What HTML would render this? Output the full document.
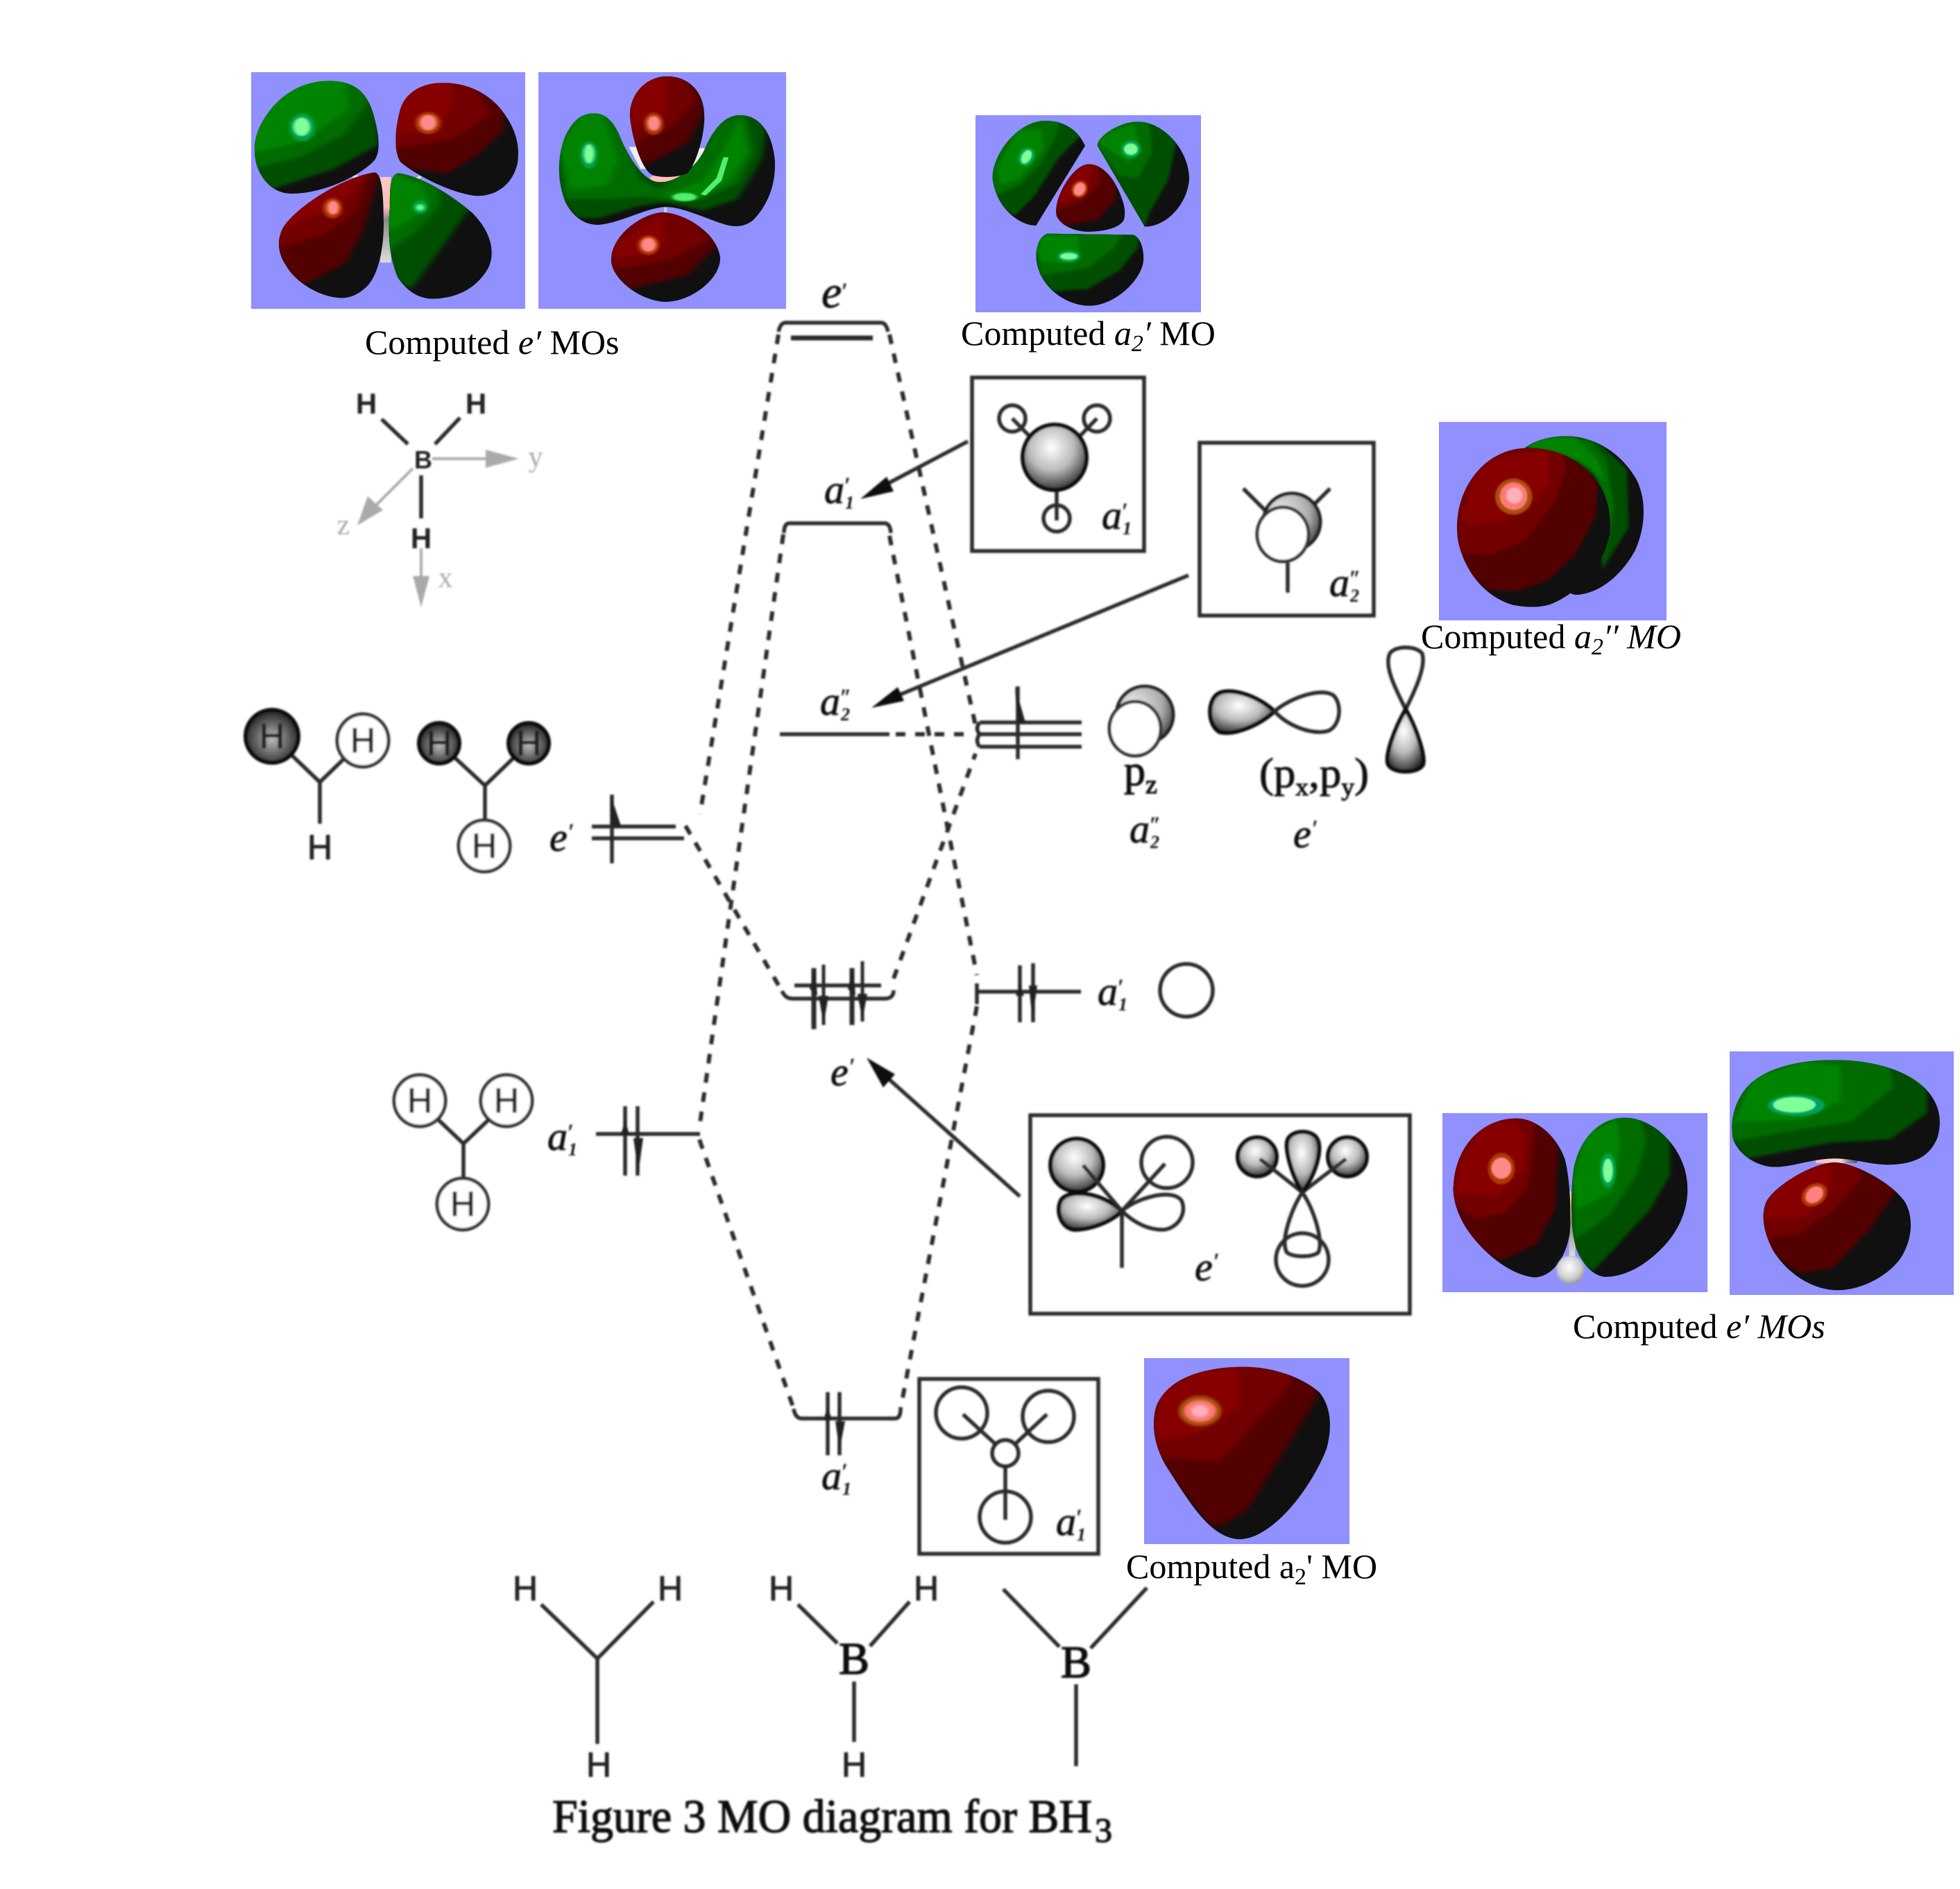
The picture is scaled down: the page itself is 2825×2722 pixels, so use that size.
<!DOCTYPE html>
<html><head><meta charset="utf-8"><title>MO diagram for BH3</title>
<style>
html,body{margin:0;padding:0;background:#fff}
svg{display:block}
.cap{font-family:"Liberation Serif",serif;font-size:50px;fill:#000}
.i{font-style:italic}
.l{font-family:"Liberation Serif",serif;font-style:italic;font-size:58px;fill:#111;stroke:#222;stroke-width:1}
.ls{font-family:"Liberation Serif",serif;font-style:italic;font-size:26px;fill:#111;font-weight:bold}
.lp{font-family:"Liberation Serif",serif;font-size:32px;fill:#111;stroke:#222;stroke-width:.8}
.h{font-family:"Liberation Sans",sans-serif;font-size:50px;fill:#222;stroke:#222;stroke-width:1;text-anchor:middle}
.hb{font-family:"Liberation Sans",sans-serif;font-size:42px;font-weight:bold;fill:#222;text-anchor:middle}
.ax{font-family:"Liberation Serif",serif;font-size:42px;fill:#aaa;text-anchor:middle}
.b{font-family:"Liberation Serif",serif;font-size:66px;fill:#111;stroke:#111;stroke-width:1.6;text-anchor:middle}
.t{font-family:"Liberation Serif",serif;font-size:68px;fill:#111;stroke:#111;stroke-width:1.4}
.ln{fill:none;stroke:#2a2a2a;stroke-width:5.5}
.d{fill:none;stroke:#2a2a2a;stroke-width:6;stroke-dasharray:14 14}
.g1{fill:#005000}.g2{fill:#006c00}.g3{fill:#008400}
.r1{fill:#520000}.r2{fill:#720000}.r3{fill:#870000}
.g1,.g2,.g3,.r1,.r2,.r3{filter:url(#sb)}
.o>ellipse{filter:url(#gb)}
</style></head><body>
<svg xmlns="http://www.w3.org/2000/svg" width="2825" height="2722" viewBox="0 0 2825 2722">
<defs>
<filter id="bl" x="0" y="0" width="2825" height="2722" filterUnits="userSpaceOnUse"><feGaussianBlur stdDeviation="1.3"/></filter>
<filter id="sb" x="-20%" y="-20%" width="140%" height="140%"><feGaussianBlur stdDeviation="6"/></filter>
<filter id="gb" x="-40%" y="-40%" width="180%" height="180%"><feGaussianBlur stdDeviation="3"/></filter>
<radialGradient id="sg" cx="45%" cy="35%" r="70%"><stop offset="0" stop-color="#fff"/><stop offset=".5" stop-color="#bbb"/><stop offset="1" stop-color="#222"/></radialGradient>
<radialGradient id="dg" cx="50%" cy="55%" r="60%"><stop offset="0" stop-color="#bbb"/><stop offset=".6" stop-color="#555"/><stop offset="1" stop-color="#111"/></radialGradient>
<radialGradient id="pg" cx="30%" cy="35%" r="85%"><stop offset="0" stop-color="#eee"/><stop offset=".6" stop-color="#aaa"/><stop offset="1" stop-color="#222"/></radialGradient>
<radialGradient id="lg" cx="45%" cy="40%" r="70%"><stop offset="0" stop-color="#fff"/><stop offset=".6" stop-color="#ccc"/><stop offset="1" stop-color="#777"/></radialGradient>
<linearGradient id="bond" x1="0" y1="0" x2="0" y2="1"><stop offset="0" stop-color="#ffc8c8"/><stop offset=".35" stop-color="#ffbcbc"/><stop offset=".5" stop-color="#888"/><stop offset="1" stop-color="#ddd"/></linearGradient>
<linearGradient id="bondh" x1="0" y1="0" x2="1" y2="0"><stop offset="0" stop-color="#ffb8b8"/><stop offset=".6" stop-color="#ffd8d8"/><stop offset=".8" stop-color="#888"/><stop offset="1" stop-color="#555"/></linearGradient>
<clipPath id="c1"><path d="M175 110C225 110 250 160 262 280C272 370 270 420 262 450C240 510 170 597 105 597C70 597 50 540 40 480C30 400 35 330 60 250C85 170 125 110 175 110Z"/></clipPath>
<clipPath id="c2"><path d="M390 118C440 118 480 170 505 250C530 330 535 400 530 470C520 560 490 607 455 607C410 600 340 520 310 460C298 420 298 330 310 230C320 160 350 118 390 118Z"/></clipPath>
<clipPath id="c3"><path d="M262 505C275 515 278 600 278 700C280 800 272 930 250 990C230 1040 210 1050 195 1048C150 1040 110 970 95 910C80 860 75 800 90 740C120 640 210 520 262 505Z"/></clipPath>
<clipPath id="c4"><path d="M305 508C350 520 410 610 445 680C480 760 490 850 475 920C455 1000 420 1050 370 1052C340 1050 320 1010 305 960C290 880 285 780 290 650C290 570 290 520 305 508Z"/></clipPath>
<clipPath id="c5"><path d="M812 90C850 90 880 150 882 250C885 340 865 480 850 510C830 530 790 530 780 510C760 470 745 340 742 260C742 160 775 90 812 90Z"/></clipPath>
<clipPath id="c6"><path d="M675 250C700 250 715 300 725 360C740 440 765 530 790 545C820 560 860 500 880 420C895 340 915 258 950 258C985 258 1010 330 1015 450C1018 560 1000 650 975 710C960 740 940 745 920 730C880 700 840 655 810 655C775 655 720 730 680 732C650 730 630 680 620 630C605 540 605 440 620 350C635 280 650 250 675 250Z"/></clipPath>
<clipPath id="c7"><path d="M805 678C850 685 905 770 912 870C915 960 860 1063 810 1065C760 1063 705 960 707 880C707 780 765 680 805 678Z"/></clipPath>
<clipPath id="c8"><path d="M320 42C400 42 460 80 492 150L280 495C230 495 170 460 130 400C100 350 90 300 92 280C100 170 210 42 320 42Z"/></clipPath>
<clipPath id="c9"><path d="M720 46C830 46 945 170 942 300C930 410 840 500 750 500L545 150C545 110 640 46 720 46Z"/></clipPath>
<clipPath id="c10"><path d="M510 230C560 230 610 280 640 350C660 400 670 430 660 470C640 510 560 522 500 522C440 520 380 490 368 450C360 400 390 330 430 280C460 245 485 230 510 230Z"/></clipPath>
<clipPath id="c11"><path d="M330 530L700 535C730 545 745 590 745 640C740 730 620 842 510 842C400 840 280 750 280 620C285 570 300 540 330 530Z"/></clipPath>
<clipPath id="c12"><path d="M400 137C500 137 600 170 680 260C740 330 760 420 750 510C720 660 600 770 500 810C450 830 380 825 330 815C240 790 130 700 95 540C80 440 100 320 190 225C250 165 320 137 400 137Z"/></clipPath>
<clipPath id="c13"><path d="M240 305C300 305 360 380 385 480C400 560 405 700 400 800C390 900 350 990 295 992C230 985 150 900 100 800C60 720 48 640 52 590C60 420 140 305 240 305Z"/></clipPath>
<clipPath id="c14"><path d="M565 302C640 302 720 400 745 530C765 640 745 760 680 860C620 950 560 990 505 990C470 985 440 940 420 870C400 780 402 620 412 520C430 390 490 302 565 302Z"/></clipPath>
<clipPath id="c15"><path d="M1190 52C1300 52 1400 90 1460 170C1510 240 1515 320 1500 390C1480 460 1440 505 1350 505C1300 505 1250 478 1190 478C1120 480 1070 515 1010 515C950 510 900 450 888 390C880 320 890 240 930 170C980 90 1080 52 1190 52Z"/></clipPath>
<clipPath id="c16"><path d="M1195 495C1260 500 1370 590 1405 670C1430 740 1425 830 1390 910C1350 990 1270 1048 1200 1048C1120 1045 1050 970 1010 880C980 800 970 720 990 660C1020 590 1130 495 1195 495Z"/></clipPath>
<clipPath id="c17"><path d="M1130 1105C1190 1105 1250 1130 1285 1165C1310 1200 1312 1250 1300 1300C1270 1390 1190 1515 1120 1515C1060 1510 1020 1430 970 1340C945 1290 940 1240 950 1200C975 1125 1060 1105 1130 1105Z"/></clipPath>
<clipPath id="c18"><path d="M385 135C440 95 510 85 570 85C700 90 810 170 870 280C910 370 905 480 860 580C800 690 700 770 600 772L400 700Z"/></clipPath>
</defs>
<rect width="2825" height="2722" fill="#fff"/>

<!-- Blue panels -->
<g fill="#9090ff">
<rect x="362" y="104" width="395" height="341"/>
<rect x="776" y="104" width="357" height="341"/>
<rect x="1406" y="166" width="325" height="284"/>
<rect x="2074" y="608" width="328" height="286"/>
<rect x="2079" y="1604" width="382" height="258"/>
<rect x="2493" y="1515" width="323" height="351"/>
<rect x="1649" y="1957" width="296" height="268"/>
</g>

<!-- Panel 1 -->
<g class="o" transform="translate(340 80) scale(.7653 .3333)">
<rect x="272" y="525" width="20" height="370" fill="url(#bond)"/>
<path d="M218 522L228 516L236 532L226 538ZM335 535L346 518L350 526L340 542Z" fill="#ddd"/>
<g clip-path="url(#c1)"><rect x="0" y="80" width="300" height="540" fill="#101010"/><path class="g1" d="M0 0H268V385L185 490L65 580L0 600Z"/><path class="g2" d="M0 0H250L250 200L205 340L120 440L30 490Z"/><path class="g3" d="M0 0H200L212 230L130 370L30 420Z"/></g>
<ellipse cx="125" cy="310" rx="24" ry="60" fill="#00a050"/><ellipse cx="124" cy="308" rx="16" ry="40" fill="#80ff98"/>
<g clip-path="url(#c2)"><rect x="280" y="100" width="270" height="520" fill="#101010"/><path class="r1" d="M280 100H505L505 320L460 420L400 510L330 490L280 420Z"/><path class="r2" d="M280 100H440L480 250L410 360L290 408Z"/><path class="r3" d="M300 100H400L410 200L385 310L300 340Z"/></g>
<ellipse cx="362" cy="292" rx="24" ry="48" fill="#b03800"/><ellipse cx="362" cy="290" rx="16" ry="34" fill="#ff8a8a"/>
<g clip-path="url(#c3)"><rect x="60" y="480" width="240" height="580" fill="#101010"/><path class="r1" d="M60 480H275L240 760L205 900L130 990L60 930Z"/><path class="r2" d="M60 480H255L225 680L170 770L70 840Z"/><path class="r3" d="M100 620L240 510L200 640L120 720L90 760Z"/></g>
<ellipse cx="182" cy="660" rx="18" ry="44" fill="#b03800"/><ellipse cx="183" cy="658" rx="11" ry="30" fill="#ff8a8a"/>
<g clip-path="url(#c4)"><rect x="280" y="490" width="220" height="580" fill="#101010"/><path class="g1" d="M280 490H440V660L400 790L330 1010L280 950Z"/><path class="g2" d="M280 490H380L385 650L340 760L285 850Z"/><path class="g3" d="M285 500L350 560L365 640L320 720L285 760Z"/></g>
<ellipse cx="347" cy="655" rx="14" ry="30" fill="#00a050"/><ellipse cx="347" cy="657" rx="8" ry="14" fill="#60ff80"/>
</g>

<!-- Panel 2 -->
<g class="o" transform="translate(340 80) scale(.7653 .3333)">
<path d="M740 395L755 395L775 490L762 490ZM870 400L885 400L860 490L850 480Z" fill="#eee"/>
<rect x="780" y="520" width="62" height="28" rx="10" fill="#ffc0c0"/>
<rect x="806" y="655" width="6" height="28" fill="#ccc"/>
<g clip-path="url(#c6)"><rect x="600" y="240" width="430" height="510" fill="#101010"/><path class="g1" d="M600 240H1005L990 450L945 620L880 670L810 635L760 650L680 705L640 700L600 600Z"/><path class="g2" d="M600 240H720L760 540L800 580L880 420L900 300L960 240L975 420L945 550L880 620L820 625L770 610L700 620L620 620Z"/><path class="g3" d="M610 400L650 250H690L720 450L700 560L630 580ZM810 600L880 540L920 400L950 270L965 420L930 540L870 620L820 620Z"/></g>
<ellipse cx="665" cy="430" rx="16" ry="60" fill="#00a050"/><ellipse cx="665" cy="425" rx="10" ry="42" fill="#80ff98"/>
<path d="M875 600L905 530L918 440L928 440L915 540L885 605Z" fill="#50ef70"/>
<ellipse cx="845" cy="612" rx="23" ry="18" fill="#50ef70"/>
<g clip-path="url(#c5)"><rect x="730" y="80" width="170" height="460" fill="#101010"/><path class="r1" d="M730 80H880V250L850 380L775 470L730 420Z"/><path class="r2" d="M730 80H840L865 200L820 310L740 385Z"/><path class="r3" d="M745 100H810L810 240L745 320Z"/></g>
<ellipse cx="787" cy="295" rx="18" ry="48" fill="#b03800"/><ellipse cx="787" cy="293" rx="12" ry="32" fill="#ff8a8a"/>
<g clip-path="url(#c7)"><rect x="700" y="670" width="230" height="400" fill="#101010"/><path class="r1" d="M700 670H910V810L850 950L740 1010L700 940Z"/><path class="r2" d="M700 670H850L890 800L820 880L710 930Z"/><path class="r3" d="M715 820L800 690L810 800L770 860L710 870Z"/></g>
<ellipse cx="777" cy="820" rx="20" ry="42" fill="#b03800"/><ellipse cx="777" cy="818" rx="14" ry="30" fill="#ff8a8a"/>
</g>

<!-- Panel 3 a2' top -->
<g class="o" transform="translate(1400 160) scale(.3333)">
<g clip-path="url(#c8)"><rect x="80" y="30" width="430" height="480" fill="#101010"/><path class="g1" d="M80 30H470V110L380 200L270 370L190 450L80 420Z"/><path class="g2" d="M80 30H380L370 100L300 230L210 320L120 360L80 350Z"/><path class="g3" d="M110 250L200 80H300L310 170L210 290L130 320Z"/></g>
<ellipse cx="238" cy="198" rx="34" ry="42" fill="#00a050" transform="rotate(30 238 198)"/><ellipse cx="238" cy="198" rx="20" ry="32" fill="#80ff98" transform="rotate(30 238 198)"/>
<g clip-path="url(#c9)"><rect x="540" y="40" width="410" height="470" fill="#101010"/><path class="g1" d="M540 40H885V145L850 300L770 440L750 500L540 300Z"/><path class="g2" d="M540 40H770L780 180L720 290L640 280L540 150Z"/><path class="g3" d="M550 130L600 90L700 60L740 170L680 220L600 170Z"/></g>
<ellipse cx="690" cy="165" rx="42" ry="38" fill="#00a050"/><ellipse cx="690" cy="165" rx="30" ry="25" fill="#80ff98"/>
<g clip-path="url(#c10)"><rect x="350" y="220" width="330" height="310" fill="#101010"/><path class="r1" d="M350 220H625V380L550 470L400 495L350 470Z"/><path class="r2" d="M350 220H550L560 310L480 390L370 430Z"/><path class="r3" d="M400 330L490 235L520 240L510 320L440 370L380 400Z"/></g>
<ellipse cx="468" cy="338" rx="34" ry="38" fill="#b03800" transform="rotate(30 468 338)"/><ellipse cx="468" cy="338" rx="24" ry="30" fill="#ff8888" transform="rotate(30 468 338)"/>
<g clip-path="url(#c11)"><rect x="270" y="520" width="480" height="330" fill="#101010"/><path class="g1" d="M270 520H730L720 590L640 690L500 770L350 780L270 700Z"/><path class="g2" d="M270 520H660L620 590L500 680L300 710Z"/><path class="g3" d="M285 600L310 540L460 540L470 620L400 660L300 650Z"/></g>
<ellipse cx="422" cy="628" rx="50" ry="26" fill="#00a050"/><ellipse cx="422" cy="628" rx="38" ry="15" fill="#80ff98"/>
</g>

<!-- Panel 4 a2'' -->
<g class="o" transform="translate(2070 600) scale(.3333)">
<g clip-path="url(#c18)"><rect x="380" y="80" width="540" height="700" fill="#101010"/><path class="g1" d="M385 135L570 85L690 100L825 230L832 480L720 660L700 500L680 250Z"/><path class="g2" d="M385 135C450 85 560 80 670 105L735 190L770 400L720 650C750 500 750 380 700 270C650 190 520 140 385 135Z"/><path class="g3" d="M385 135C450 85 520 85 600 90L690 180L735 280L690 250C650 190 520 140 385 135Z"/></g>
<g clip-path="url(#c12)"><rect x="80" y="130" width="690" height="700" fill="#101010"/><path class="r1" d="M60 100H590L700 300L690 430L600 600L480 710L350 755L230 750L80 640Z"/><path class="r2" d="M60 100H540L560 230L510 370L380 540L230 600L100 590Z"/><path class="r3" d="M110 440L170 240L280 170L480 150L490 290L400 400L290 450L140 470Z"/></g>
<ellipse cx="335" cy="347" rx="80" ry="78" fill="#a85010"/><ellipse cx="335" cy="345" rx="60" ry="60" fill="#ff7878"/><ellipse cx="338" cy="342" rx="35" ry="35" fill="#ffb0b8"/>
</g>

<!-- Panel 5/6 e' right -->
<g class="o" transform="translate(2070 1510) scale(.4815 .3333)">
<rect x="398" y="620" width="18" height="280" fill="url(#bond)"/>
<rect x="1136" y="476" width="124" height="22" fill="url(#bondh)"/>
<g clip-path="url(#c13)"><rect x="40" y="290" width="370" height="710" fill="#101010"/><path class="r1" d="M40 290H340L365 440L355 700L300 850L190 920L40 800Z"/><path class="r2" d="M40 290H295L295 340L275 600L210 710L120 740L40 660Z"/><path class="r3" d="M70 500L130 350L230 310L270 380L260 530L180 640L60 630Z"/></g>
<ellipse cx="195" cy="522" rx="40" ry="68" fill="#b03800"/><ellipse cx="195" cy="520" rx="30" ry="46" fill="#ff8a8a"/>
<g clip-path="url(#c14)"><rect x="395" y="290" width="370" height="710" fill="#101010"/><path class="g1" d="M395 290H700V550L640 700L470 965L395 900Z"/><path class="g2" d="M395 290H610L630 400L600 550L520 720L415 830Z"/><path class="g3" d="M410 560L450 370L540 310L550 420L530 620L420 700Z"/></g>
<ellipse cx="514" cy="530" rx="24" ry="75" fill="#00a050"/><ellipse cx="514" cy="530" rx="15" ry="52" fill="#80ff98"/>
<ellipse cx="402" cy="960" rx="42" ry="62" fill="url(#lg)"/>
<g clip-path="url(#c15)"><rect x="880" y="40" width="640" height="480" fill="#101010"/><path class="g1" d="M880 40H1470V280L1360 395L1180 410L1000 460L930 480L880 400Z"/><path class="g2" d="M880 40H1350L1370 170L1240 320L1100 350L900 400L880 390Z"/><path class="g3" d="M890 330L950 130L1100 60L1210 80L1210 230L1100 310L900 320Z"/></g>
<ellipse cx="1078" cy="248" rx="85" ry="46" fill="#00a060"/><ellipse cx="1072" cy="246" rx="64" ry="34" fill="#80ff98"/>
<g clip-path="url(#c16)"><rect x="960" y="480" width="480" height="575" fill="#101010"/><path class="r1" d="M960 480H1380V610L1300 780L1190 950L1090 975L960 850Z"/><path class="r2" d="M960 480H1260L1270 570L1190 700L1090 800L980 830Z"/><path class="r3" d="M1000 640L1090 530L1180 510L1180 610L1100 730L980 740Z"/></g>
<ellipse cx="1132" cy="635" rx="36" ry="52" fill="#b03800" transform="rotate(20 1132 635)"/><ellipse cx="1132" cy="635" rx="25" ry="38" fill="#ff8080" transform="rotate(20 1132 635)"/>
</g>

<!-- Panel 7 a1 bottom -->
<g class="o" transform="translate(1000 1300) scale(.7015 .606)">
<g clip-path="url(#c17)"><rect x="930" y="1090" width="390" height="430" fill="#101010"/><path class="r1" d="M930 1090H1285L1280 1180L1140 1440L1090 1480L1060 1480L930 1300Z"/><path class="r2" d="M930 1090H1225L1225 1150L1080 1330L950 1320Z"/><path class="r3" d="M950 1250L960 1160L1050 1110L1120 1110L1120 1200L1040 1260L960 1280Z"/></g>
<ellipse cx="1040" cy="1210" rx="44" ry="36" fill="#a85010"/><ellipse cx="1040" cy="1210" rx="33" ry="26" fill="#ff7878"/><ellipse cx="1040" cy="1210" rx="18" ry="15" fill="#ffb0b8"/>
</g>

<!-- Crisp captions -->
<text class="cap" x="526" y="510">Computed <tspan class="i">e′</tspan> MOs</text>
<text class="cap" x="1385" y="497">Computed <tspan class="i">a</tspan><tspan class="i" font-size="34" dy="9">2</tspan><tspan class="i" dy="-9">′</tspan> MO</text>
<text class="cap" x="2048" y="934">Computed <tspan class="i">a</tspan><tspan class="i" font-size="34" dy="9">2</tspan><tspan class="i" dy="-9">′′ MO</tspan></text>
<text class="cap" x="2267" y="1928">Computed <tspan class="i">e′ MOs</tspan></text>
<text class="cap" x="1623" y="2274">Computed a<tspan font-size="34" dy="9">2</tspan><tspan dy="-9">' MO</tspan></text>

<!-- Blurry line art -->
<g filter="url(#bl)">
<!-- Levels -->
<path class="ln" d="M1122 478Q1125 465 1132 465H1270Q1277 465 1280 478"/>
<path class="ln" style="stroke-width:7" d="M1140 487H1258"/>
<path class="ln" d="M1130 768Q1130 754 1138 754H1275Q1283 754 1284 768"/>
<path class="ln" d="M1124 1058H1282"/>
<path class="ln" d="M1412 1041H1559M1412 1058H1559M1412 1076H1559M1412 1041Q1405 1050 1412 1058Q1405 1067 1412 1076"/>
<path class="ln" d="M1467 989V1094"/><path d="M1463 989L1478 1041H1466Z" fill="#222"/>
<path class="ln" d="M853 1191H974M853 1208H986M882 1145V1244"/><path d="M880 1145L895 1190H880Z" fill="#222"/>
<path class="ln" d="M1145 1420H1270M1127 1428Q1132 1439 1142 1439H1275Q1288 1439 1288 1427"/>
<path class="ln" style="stroke-width:7" d="M1173 1395V1483M1228 1395V1477"/>
<path class="ln" style="stroke-width:5" d="M1187 1390V1477M1243 1385V1472"/>
<path d="M1167 1425L1175 1395L1178 1435ZM1222 1425L1230 1395L1233 1435ZM1180 1435H1194L1187 1477ZM1236 1432H1250L1243 1470Z" fill="#222"/>
<path class="ln" d="M1408 1417V1447M1408 1429H1558"/>
<path class="ln" d="M1470 1391V1473M1489 1388V1473"/><path d="M1464 1435L1470 1418L1476 1435ZM1483 1420L1495 1420L1488 1470Z" fill="#222"/>
<path class="ln" d="M859 1634H1009"/>
<path class="ln" d="M901 1594V1694M919 1594V1694"/><path d="M895 1635L901 1613L907 1635ZM913 1640H927L920 1690Z" fill="#222"/>
<path class="ln" d="M1144 2030Q1146 2044 1156 2044H1290Q1298 2044 1298 2030"/>
<path class="ln" d="M1193 2006V2097M1210 2006V2097"/><path d="M1187 2046L1193 2026L1199 2046ZM1204 2048H1218L1210 2090Z" fill="#222"/>

<!-- Dashed connectors -->
<path class="d" d="M1122 482L1009 1173"/>
<path class="d" d="M1129 770L1008 1625"/>
<path class="d" d="M988 1190L1127 1428"/>
<path class="d" d="M1008 1642L1144 2030"/>
<path class="d" d="M1282 482L1406 1045"/>
<path class="d" d="M1282 772L1408 1405"/>
<path class="d" d="M1291 1058H1400"/>
<path class="d" d="M1288 1410L1406 1086"/>
<path class="d" d="M1408 1450L1298 2030"/>

<!-- Arrows -->
<path class="ln" d="M1395 636L1262 706"/><path d="M1240 719L1278 687L1288 708Z" fill="#111"/>
<path class="ln" d="M1713 829L1280 1008"/><path d="M1256 1020L1294 990L1303 1010Z" fill="#111"/>
<path class="ln" d="M1470 1724L1270 1545"/><path d="M1249 1524L1290 1548L1273 1567Z" fill="#111"/>

<!-- Boxes -->
<g fill="none" stroke="#2a2a2a" stroke-width="5.5">
<rect x="1401" y="544" width="248" height="250"/>
<rect x="1729" y="638" width="251" height="249"/>
<rect x="1485" y="1607" width="547" height="286"/>
<rect x="1325" y="1987" width="258" height="252"/>
</g>

<!-- a1' box content -->
<circle cx="1459" cy="603" r="19" class="ln"/><circle cx="1581" cy="603" r="19" class="ln"/><circle cx="1523" cy="747" r="19" class="ln"/>
<path class="ln" d="M1459 603L1495 640M1581 603L1550 635M1523 700V750"/>
<ellipse cx="1520" cy="659" rx="46" ry="47" fill="url(#sg)" stroke="#111" stroke-width="6"/>
<!-- a2'' box content -->
<path class="ln" d="M1792 704L1830 742M1917 704L1894 727M1856 811V854"/>
<circle cx="1862" cy="752" r="41" fill="url(#pg)" stroke="#222" stroke-width="5"/>
<ellipse cx="1849" cy="770" rx="37" ry="39" fill="#fff" stroke="#333" stroke-width="5"/>
<!-- pz -->
<circle cx="1650" cy="1030" r="41" fill="url(#pg)" stroke="#222" stroke-width="5"/>
<ellipse cx="1636" cy="1050" rx="37" ry="39" fill="#fff" stroke="#333" stroke-width="5"/>
<!-- px -->
<path d="M1837 1025C1810 1000 1770 990 1755 1000C1740 1010 1740 1045 1758 1055C1780 1060 1815 1045 1837 1025Z" fill="url(#sg)" stroke="#111" stroke-width="6"/>
<path class="ln" d="M1837 1025C1860 1005 1905 990 1922 1002C1935 1015 1932 1045 1915 1053C1890 1060 1855 1045 1837 1025Z"/>
<!-- py -->
<path class="ln" d="M2026 1022C2010 990 1995 960 2003 942C2010 930 2042 930 2050 942C2055 960 2042 990 2026 1022Z"/>
<path d="M2026 1022C2010 1050 1995 1090 2001 1102C2008 1115 2044 1115 2051 1102C2055 1090 2042 1050 2026 1022Z" fill="url(#sg)" stroke="#111" stroke-width="6"/>
<!-- s -->
<ellipse cx="1710" cy="1427" rx="38" ry="38" class="ln"/>
<!-- e' box -->
<path d="M1617 1745C1590 1720 1545 1712 1530 1728C1520 1745 1530 1770 1548 1772C1570 1772 1600 1762 1617 1745Z" fill="url(#sg)" stroke="#111" stroke-width="6"/>
<circle cx="1552" cy="1679" r="38" fill="url(#sg)" stroke="#111" stroke-width="6"/>
<circle cx="1682" cy="1675" r="37" class="ln"/>
<path class="ln" d="M1617 1745C1640 1725 1690 1712 1703 1730C1712 1750 1695 1772 1675 1772C1655 1772 1635 1762 1617 1745Z"/>
<path class="ln" d="M1561 1679L1617 1745L1679 1677M1617 1745V1827"/>
<circle cx="1812" cy="1667" r="28" fill="url(#sg)" stroke="#111" stroke-width="6"/>
<circle cx="1942" cy="1667" r="28" fill="url(#sg)" stroke="#111" stroke-width="6"/>
<path class="ln" d="M1816 1670L1877 1718L1940 1670"/>
<circle cx="1877" cy="1815" r="38" class="ln"/>
<path d="M1877 1718C1860 1690 1850 1650 1857 1640C1865 1628 1890 1628 1898 1640C1908 1655 1895 1695 1877 1718Z" fill="url(#sg)" stroke="#111" stroke-width="6"/>
<path class="ln" d="M1877 1718C1860 1745 1845 1790 1855 1805C1865 1812 1890 1812 1900 1805C1908 1790 1895 1745 1877 1718Z" fill="#fff"/>
<!-- bottom a1' box -->
<circle cx="1386" cy="2036" r="37" class="ln"/><circle cx="1511" cy="2041" r="37" class="ln"/><circle cx="1449" cy="2094" r="19" class="ln"/><circle cx="1449" cy="2186" r="37" class="ln"/>
<path class="ln" d="M1388 2038L1436 2082M1509 2038L1464 2080M1449 2113V2190"/>

<!-- Left H groups -->
<path class="ln" d="M392 1061L461 1127L523 1067M461 1127V1187"/>
<ellipse cx="392" cy="1061" rx="38" ry="38" fill="url(#dg)" stroke="#111" stroke-width="6"/>
<ellipse cx="523" cy="1067" rx="37" ry="38" fill="#fff" stroke="#333" stroke-width="5"/>
<text class="h" x="392" y="1078">H</text><text class="h" x="523" y="1084">H</text><text class="h" x="461" y="1238">H</text>
<path class="ln" d="M633 1071L699 1132L762 1071M699 1132V1190"/>
<circle cx="633" cy="1071" r="29" fill="url(#dg)" stroke="#111" stroke-width="6"/><circle cx="762" cy="1071" r="29" fill="url(#dg)" stroke="#111" stroke-width="6"/>
<ellipse cx="698" cy="1219" rx="37" ry="37" fill="#fff" stroke="#333" stroke-width="5"/>
<text class="h" x="633" y="1088">H</text><text class="h" x="762" y="1088">H</text><text class="h" x="698" y="1236">H</text>
<path class="ln" d="M628 1610L668 1648L708 1610M668 1648V1699"/>
<circle cx="605" cy="1586" r="37" fill="#fff" stroke="#333" stroke-width="5"/><circle cx="730" cy="1586" r="37" fill="#fff" stroke="#333" stroke-width="5"/><circle cx="667" cy="1735" r="37" fill="#fff" stroke="#333" stroke-width="5"/>
<text class="h" x="605" y="1603">H</text><text class="h" x="730" y="1603">H</text><text class="h" x="667" y="1752">H</text>

<!-- BH3 axes -->
<path class="ln" d="M550 604L588 640M663 602L627 640M607 685V747"/>
<path d="M623 661H705" stroke="#aaa" stroke-width="4"/><path d="M700 648L748 661L700 674Z" fill="#aaa"/>
<path d="M595 675L535 735" stroke="#aaa" stroke-width="4"/><path d="M515 757L530 715L552 735Z" fill="#aaa"/>
<path d="M607 790V835" stroke="#aaa" stroke-width="4"/><path d="M595 830H619L607 875Z" fill="#aaa"/>
<text class="hb" x="528" y="596">H</text><text class="hb" x="686" y="596">H</text><text class="hb" x="607" y="790">H</text>
<text class="hb" x="610" y="675" style="font-size:36px">B</text>
<text class="ax" x="772" y="672">y</text><text class="ax" x="495" y="770">z</text><text class="ax" x="642" y="846">x</text>

<!-- Bottom molecules -->
<path class="ln" d="M780 2312L861 2390L942 2308M861 2390V2513"/>
<path class="ln" d="M1150 2312L1207 2368M1311 2308L1254 2372M1231 2423V2510"/>
<path class="ln" d="M1446 2290L1527 2373M1653 2288L1572 2375M1551 2427V2545"/>
<text class="h" x="757" y="2306">H</text><text class="h" x="966" y="2306">H</text><text class="h" x="863" y="2560">H</text>
<text class="h" x="1126" y="2306">H</text><text class="h" x="1335" y="2306">H</text><text class="h" x="1231" y="2560">H</text>
<text class="b" x="1231" y="2412">B</text><text class="b" x="1551" y="2417">B</text>
<text class="t" x="796" y="2640" textLength="778" lengthAdjust="spacingAndGlyphs">Figure 3 MO diagram for BH</text>
<text class="t" x="1578" y="2654" style="font-size:50px">3</text>

<!-- Symmetry labels -->
<g>
<text class="l" x="1184" y="443" style="font-size:66px">e</text><text class="lp" x="1214" y="430">′</text>
<text class="l" x="1188" y="725">a</text><text class="ls" x="1218" y="733">1</text><text class="lp" x="1218" y="710">′</text>
<text class="l" x="1182" y="1030">a</text><text class="ls" x="1212" y="1038">2</text><text class="lp" x="1212" y="1015">″</text>
<text class="l" x="1588" y="762">a</text><text class="ls" x="1618" y="770">1</text><text class="lp" x="1618" y="747">′</text>
<text class="l" x="1916" y="859">a</text><text class="ls" x="1946" y="867">2</text><text class="lp" x="1946" y="844">″</text>
<text class="l" x="1628" y="1214">a</text><text class="ls" x="1658" y="1222">2</text><text class="lp" x="1658" y="1199">″</text>
<text class="l" x="1864" y="1221">e</text><text class="lp" x="1892" y="1204">′</text>
<text class="l" x="1582" y="1448">a</text><text class="ls" x="1612" y="1456">1</text><text class="lp" x="1612" y="1433">′</text>
<text class="l" x="1197" y="1564">e</text><text class="lp" x="1225" y="1547">′</text>
<text class="l" x="1722" y="1845">e</text><text class="lp" x="1750" y="1828">′</text>
<text class="l" x="1184" y="2146">a</text><text class="ls" x="1214" y="2154">1</text><text class="lp" x="1214" y="2131">′</text>
<text class="l" x="1522" y="2212">a</text><text class="ls" x="1552" y="2220">1</text><text class="lp" x="1552" y="2197">′</text>
<text class="l" x="792" y="1226">e</text><text class="lp" x="820" y="1209">′</text>
<text class="l" x="789" y="1657">a</text><text class="ls" x="819" y="1665">1</text><text class="lp" x="819" y="1642">′</text>
<text x="1620" y="1131" style="font-family:'Liberation Serif',serif;font-size:62px;fill:#111;stroke:#111;stroke-width:1.2">p<tspan font-size="38" dy="12">z</tspan></text>
<text x="1815" y="1134" style="font-family:'Liberation Serif',serif;font-size:60px;fill:#111;stroke:#111;stroke-width:1" textLength="158" lengthAdjust="spacingAndGlyphs">(p<tspan font-size="36" dy="12">x</tspan><tspan dy="-12">,p</tspan><tspan font-size="36" dy="12">y</tspan><tspan dy="-12">)</tspan></text>
</g>
</g>
</svg>
</body></html>
